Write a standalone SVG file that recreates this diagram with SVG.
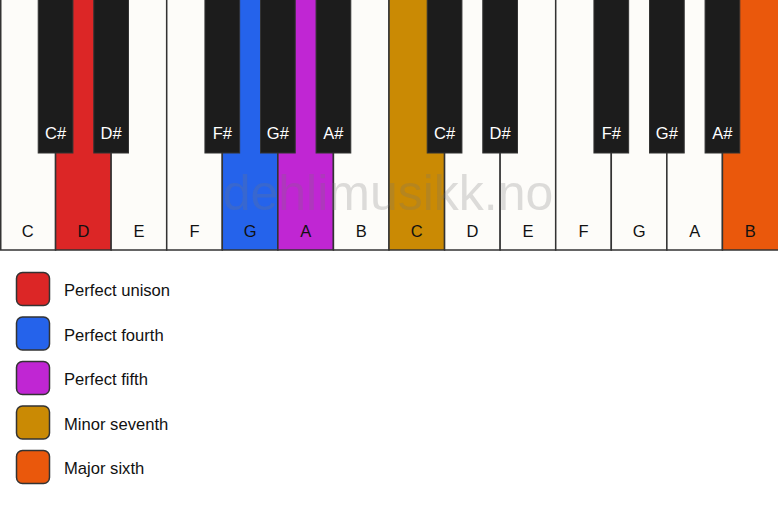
<svg xmlns="http://www.w3.org/2000/svg" width="778" height="506" viewBox="0 0 778 506">
<style>
.w{fill:#fdfcf9;stroke:#333;stroke-width:1.5}
.b{fill:#1c1c1c;stroke:#333;stroke-width:1}
.sw{stroke:#333;stroke-width:1.5}
.wl{font-family:"Liberation Sans",Arial,sans-serif;font-size:16.5px;fill:#111;text-anchor:middle}
.bl{font-family:"Liberation Sans",Arial,sans-serif;font-size:16.5px;fill:#fff;text-anchor:middle}
.lg{font-family:"Liberation Sans",Arial,sans-serif;font-size:16.6px;fill:#111}
.wm{font-family:"Liberation Sans",Arial,sans-serif;font-size:50px;fill:#777;fill-opacity:0.24;text-anchor:middle}
</style>
<rect width="778" height="506" fill="#fff"/>
<g id="white-keys">
<g id="w-C1"><rect class="w" x="0.75" y="-1" width="54.82" height="251"/><text class="wl" x="27.79" y="237">C</text></g>
<g id="w-D1"><rect class="w" x="55.57" y="-1" width="55.57" height="251" style="fill:#dc2626"/><text class="wl" x="83.36" y="237">D</text></g>
<g id="w-E1"><rect class="w" x="111.14" y="-1" width="55.57" height="251"/><text class="wl" x="138.93" y="237">E</text></g>
<g id="w-F1"><rect class="w" x="166.71" y="-1" width="55.57" height="251"/><text class="wl" x="194.5" y="237">F</text></g>
<g id="w-G1"><rect class="w" x="222.29" y="-1" width="55.57" height="251" style="fill:#2563eb"/><text class="wl" x="250.07" y="237">G</text></g>
<g id="w-A1"><rect class="w" x="277.86" y="-1" width="55.57" height="251" style="fill:#c026d3"/><text class="wl" x="305.64" y="237">A</text></g>
<g id="w-B1"><rect class="w" x="333.43" y="-1" width="55.57" height="251"/><text class="wl" x="361.21" y="237">B</text></g>
<g id="w-C2"><rect class="w" x="389" y="-1" width="55.57" height="251" style="fill:#ca8a04"/><text class="wl" x="416.79" y="237">C</text></g>
<g id="w-D2"><rect class="w" x="444.57" y="-1" width="55.57" height="251"/><text class="wl" x="472.36" y="237">D</text></g>
<g id="w-E2"><rect class="w" x="500.14" y="-1" width="55.57" height="251"/><text class="wl" x="527.93" y="237">E</text></g>
<g id="w-F2"><rect class="w" x="555.71" y="-1" width="55.57" height="251"/><text class="wl" x="583.5" y="237">F</text></g>
<g id="w-G2"><rect class="w" x="611.29" y="-1" width="55.57" height="251"/><text class="wl" x="639.07" y="237">G</text></g>
<g id="w-A2"><rect class="w" x="666.86" y="-1" width="55.57" height="251"/><text class="wl" x="694.64" y="237">A</text></g>
<g id="w-B2"><rect class="w" x="722.43" y="-1" width="56.57" height="251" style="fill:#ea580c"/><text class="wl" x="750.21" y="237">B</text></g>
</g>
<g id="black-keys">
<g id="b-Cs1"><rect class="b" x="38.21" y="-1" width="34.72" height="154"/><text class="bl" x="55.57" y="139">C#</text></g>
<g id="b-Ds1"><rect class="b" x="93.78" y="-1" width="34.72" height="154"/><text class="bl" x="111.14" y="139">D#</text></g>
<g id="b-Fs1"><rect class="b" x="204.93" y="-1" width="34.72" height="154"/><text class="bl" x="222.29" y="139">F#</text></g>
<g id="b-Gs1"><rect class="b" x="260.5" y="-1" width="34.72" height="154"/><text class="bl" x="277.86" y="139">G#</text></g>
<g id="b-As1"><rect class="b" x="316.07" y="-1" width="34.72" height="154"/><text class="bl" x="333.43" y="139">A#</text></g>
<g id="b-Cs2"><rect class="b" x="427.21" y="-1" width="34.72" height="154"/><text class="bl" x="444.57" y="139">C#</text></g>
<g id="b-Ds2"><rect class="b" x="482.78" y="-1" width="34.72" height="154"/><text class="bl" x="500.14" y="139">D#</text></g>
<g id="b-Fs2"><rect class="b" x="593.93" y="-1" width="34.72" height="154"/><text class="bl" x="611.29" y="139">F#</text></g>
<g id="b-Gs2"><rect class="b" x="649.5" y="-1" width="34.72" height="154"/><text class="bl" x="666.86" y="139">G#</text></g>
<g id="b-As2"><rect class="b" x="705.07" y="-1" width="34.72" height="154"/><text class="bl" x="722.43" y="139">A#</text></g>
</g>
<g id="watermark"><text class="wm" x="388" y="210">dehlimusikk.no</text></g>
<g id="legend">
<g id="lg-unison"><rect class="sw" x="16.5" y="272.5" width="33" height="33" rx="6" fill="#dc2626"/><text class="lg" x="64" y="296">Perfect unison</text></g>
<g id="lg-fourth"><rect class="sw" x="16.5" y="317" width="33" height="33" rx="6" fill="#2563eb"/><text class="lg" x="64" y="340.5">Perfect fourth</text></g>
<g id="lg-fifth"><rect class="sw" x="16.5" y="361.5" width="33" height="33" rx="6" fill="#c026d3"/><text class="lg" x="64" y="385">Perfect fifth</text></g>
<g id="lg-minor7"><rect class="sw" x="16.5" y="406" width="33" height="33" rx="6" fill="#ca8a04"/><text class="lg" x="64" y="429.5">Minor seventh</text></g>
<g id="lg-major6"><rect class="sw" x="16.5" y="450.5" width="33" height="33" rx="6" fill="#ea580c"/><text class="lg" x="64" y="474">Major sixth</text></g>
</g>
</svg>
